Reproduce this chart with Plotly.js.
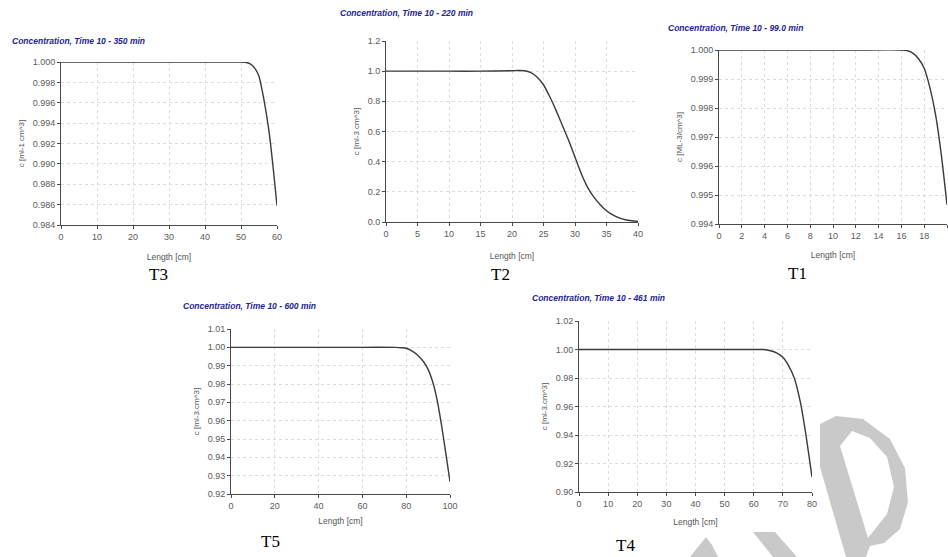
<!DOCTYPE html>
<html>
<head>
<meta charset="utf-8">
<script src="https://cdn.plot.ly/plotly-3.0.1.min.js"></script>
<style>html,body{margin:0;padding:0;background:#fff;}#chart{width:948px;height:557px;}</style>
</head>
<body>
<div id="chart"></div>
<script>
// ---- Data ----
const panelNames = ["T3", "T2", "T1", "T5", "T4"];
const panelTitles = [
  "Concentration, Time 10 - 350 min",
  "Concentration, Time 10 - 220 min",
  "Concentration, Time 10 - 99.0 min",
  "Concentration, Time 10 - 600 min",
  "Concentration, Time 10 - 461 min"
];
const yTitles = ["c [ml-1 cm^3]", "c [ml-3 cm^3]", "c [ML-3/cm^3]", "c [ml-3.cm^3]", "c [ml-3.cm^3]"];
const xTitle = "Length [cm]";

const t3Length = [0, 10, 20, 30, 40, 50, 51, 52, 53, 54, 55, 56, 57, 58, 59, 60];
const t3Conc   = [1, 1, 1, 1, 1, 1, 0.99998, 0.9999, 0.9997, 0.9993, 0.9986, 0.9970, 0.9950, 0.9926, 0.9894, 0.9859];

const t2Length = [0, 5, 10, 15, 20, 21, 22, 23, 24, 25, 26, 27, 28, 29, 30, 31, 32, 33, 34, 35, 36, 37, 38, 39, 40];
const t2Conc   = [1, 1, 1, 1, 1.003, 1.004, 1.003, 0.99, 0.96, 0.91, 0.83, 0.74, 0.64, 0.54, 0.43, 0.32, 0.23, 0.165, 0.115, 0.075, 0.047, 0.028, 0.015, 0.008, 0.004];

const t1Length = [0, 4, 8, 12, 16, 16.5, 17, 17.5, 18, 18.5, 19, 19.5, 20];
const t1Conc   = [1, 1, 1, 1, 1, 0.99998, 0.99989, 0.99970, 0.99937, 0.99870, 0.99776, 0.99639, 0.99467];

const t5Length = [0, 20, 40, 60, 75, 78, 80, 82, 85, 88, 90, 92, 94, 96, 98, 100];
const t5Conc   = [1, 1, 1, 1, 1, 0.9998, 0.9995, 0.9985, 0.9960, 0.9920, 0.9880, 0.9815, 0.9720, 0.9585, 0.9430, 0.9267];

const t4Length = [0, 10, 20, 30, 40, 50, 60, 63, 65, 68, 70, 72, 74, 76, 78, 80];
const t4Conc   = [1, 1, 1, 1, 1, 1, 1, 1, 0.9995, 0.9975, 0.9945, 0.9885, 0.9795, 0.9630, 0.9390, 0.9105];

const xRanges = [[0, 60], [0, 40], [0, 20], [0, 100], [0, 80]];
const xSteps  = [10, 5, 2, 20, 10];
const yRanges = [[0.984, 1.000], [0, 1.2], [0.994, 1.000], [0.92, 1.01], [0.90, 1.02]];
const ySteps  = [0.002, 0.2, 0.001, 0.01, 0.02];
const yFormats = [".3f", ".1f", ".3f", ".2f", ".2f"];

// ---- Layout geometry (pixels in the 948x557 image) ----
const W = 948, H = 557;
const boxes = [ // [left, right, top, bottom] of plot areas
  [61, 277, 62, 225],
  [386, 638, 41, 222],
  [719, 947, 50, 224],
  [231, 450, 329, 494],
  [579, 812, 321, 492]
];
const xStandoff = [13, 15, 12, 8, 11];
const titlePos = [[10, 41], [338, 13], [666, 28], [181, 306], [530, 298]];
const namePos  = [[158, 275], [500, 275], [797, 273], [270, 541], [625, 545]];

const series = [[t3Length, t3Conc], [t2Length, t2Conc], [t1Length, t1Conc], [t5Length, t5Conc], [t4Length, t4Conc]];

const data = [];
const layout = {
  width: W, height: H,
  margin: {l: 0, r: 0, t: 0, b: 0},
  paper_bgcolor: "#ffffff", plot_bgcolor: "#ffffff",
  showlegend: false,
  font: {family: "Liberation Sans, Arial, sans-serif", color: "#444"},
  annotations: [],
  shapes: []
};

// light grey watermark strokes at lower right (drawn below the plots)
function P(pts){ return "M" + pts.map(p => (p[0]/W).toFixed(4) + "," + (1 - p[1]/H).toFixed(4)).join(" L") + " Z"; }
const wm = {type: "path", xref: "paper", yref: "paper", fillcolor: "#c9c9c9", line: {width: 0}, layer: "below"};
layout.shapes.push(Object.assign({}, wm, {path: P([[690,557],[702,542],[706,537],[712,545],[718,557]])}));
layout.shapes.push(Object.assign({}, wm, {path: P([[753,532],[775,532],[797,557],[773,557]])}));
layout.shapes.push(Object.assign({}, wm, {path:
  P([[820,467],[820,424],[836,416],[863,419],[890,439],[905,468],[908,502],[900,529],[884,543],[870,546],[866,557],[846,557]]) + " " +
  P([[868,538],[887,514],[894,487],[887,457],[870,438],[852,431],[840,446]])
}));

series.forEach((s, i) => {
  const n = i === 0 ? "" : String(i + 1);
  data.push({
    x: s[0], y: s[1], type: "scatter", mode: "lines",
    line: {color: "#3a3a3a", width: 1.4, shape: "spline", smoothing: 0.5},
    xaxis: "x" + n, yaxis: "y" + n, hoverinfo: "skip"
  });
  const b = boxes[i];
  const axCommon = {
    showline: true, linecolor: "#4a4a4a", linewidth: 1,
    ticks: "outside", ticklen: 3, tickcolor: "#4a4a4a", tickwidth: 1,
    showgrid: true, gridcolor: "#dcdcdc", griddash: "dot", gridwidth: 1,
    zeroline: false, fixedrange: true,
    tickfont: {size: 9, color: "#5a5a5a", family: "Liberation Sans, Arial, sans-serif"}
  };
  layout["xaxis" + n] = Object.assign({}, axCommon, {
    domain: [b[0] / W, b[1] / W],
    anchor: "y" + n,
    range: xRanges[i], tickmode: "linear", tick0: 0, dtick: xSteps[i],
    title: {text: xTitle, font: {size: 8.5, color: "#555"}, standoff: xStandoff[i]}
  });
  layout["yaxis" + n] = Object.assign({}, axCommon, {
    domain: [1 - b[3] / H, 1 - b[2] / H],
    anchor: "x" + n,
    range: yRanges[i], tickmode: "linear", tick0: yRanges[i][0], dtick: ySteps[i],
    tickformat: yFormats[i],
    title: {text: yTitles[i], font: {size: 8, color: "#555"}, standoff: 6}
  });
  layout.annotations.push({
    xref: "paper", yref: "paper", x: titlePos[i][0] / W, y: 1 - titlePos[i][1] / H,
    xanchor: "left", yanchor: "middle", showarrow: false,
    text: "<b><i>" + panelTitles[i] + "</i></b>",
    font: {size: 8.5, color: "#24248f", family: "Liberation Sans, Arial, sans-serif"}
  });
  layout.annotations.push({
    xref: "paper", yref: "paper", x: namePos[i][0] / W, y: 1 - namePos[i][1] / H,
    xanchor: "center", yanchor: "middle", showarrow: false,
    text: panelNames[i],
    font: {size: 17, color: "#000", family: "Liberation Serif, Times New Roman, serif"}
  });
});

Plotly.newPlot("chart", data, layout, {staticPlot: true});
</script>
</body>
</html>
